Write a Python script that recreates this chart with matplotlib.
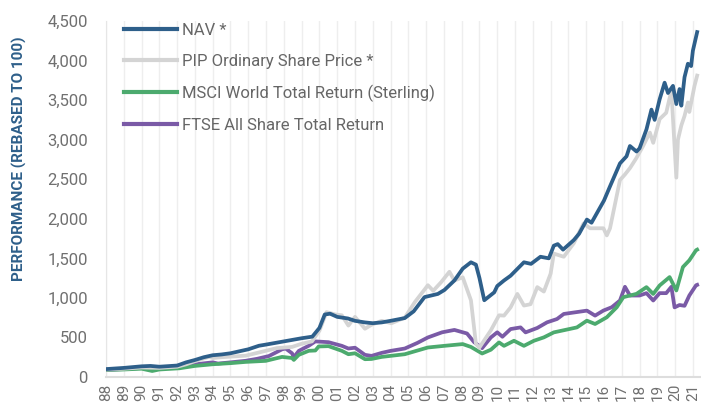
import matplotlib
matplotlib.use("Agg")
import matplotlib.pyplot as plt

plt.rcParams['font.family'] = ['Roboto', 'DejaVu Sans']

# ---- data ----
nav_x = [1988.0, 1989.0, 1990.0, 1990.5, 1991.0, 1992.0, 1992.5, 1993.0, 1993.5, 1994.0,
         1994.5, 1995.0, 1996.0, 1996.6, 1997.0, 1998.0, 1998.5, 1999.0, 1999.6, 2000.0,
         2000.3, 2000.6, 2001.0, 2001.6, 2002.0, 2002.56, 2003.0, 2003.5, 2004.0, 2004.8,
         2005.3, 2005.91, 2006.66, 2007.03, 2007.59, 2008.06, 2008.52, 2008.8, 2009.0, 2009.27,
         2009.83, 2010.0, 2010.38, 2010.75, 2011.5, 2011.9, 2012.43, 2012.9, 2013.18, 2013.4,
         2013.7, 2014.3, 2014.6, 2015.04, 2015.3, 2015.6, 2016.0, 2016.34, 2016.9, 2017.27,
         2017.46, 2017.83, 2018.0, 2018.39, 2018.67, 2018.85, 2019.13, 2019.41, 2019.6, 2019.88,
         2020.07, 2020.25, 2020.35, 2020.53, 2020.72, 2020.9, 2021.0, 2021.24]
nav_y = [100, 115, 135, 140, 130, 145, 185, 215, 250, 275,
         285, 300, 350, 395, 410, 450, 470, 490, 510, 620,
         790, 800, 760, 740, 710, 690, 680, 690, 710, 745,
         830, 1010, 1050, 1100, 1220, 1370, 1450, 1420, 1250, 970,
         1070, 1150, 1220, 1280, 1450, 1430, 1520, 1500, 1660, 1680,
         1610, 1730, 1810, 1990, 1950, 2070, 2230, 2410, 2700, 2790,
         2920, 2850, 2890, 3130, 3380, 3250, 3510, 3720, 3590, 3680,
         3450, 3640, 3430, 3790, 3960, 3930, 4125, 4360]

pip_x = [1988.0, 1989.0, 1990.0, 1991.0, 1992.0, 1992.5, 1993.0, 1993.8, 1994.0, 1994.5,
         1995.86, 1996.6, 1997.6, 1998.46, 1999.0, 1999.58, 2000.0, 2000.4, 2000.9, 2001.26,
         2001.63, 2002.0, 2002.56, 2002.93, 2003.5, 2004.05, 2004.8, 2005.36, 2006.1, 2006.4,
         2006.85, 2007.31, 2007.59, 2008.06, 2008.52, 2008.8, 2008.99, 2009.64, 2010.1, 2010.38,
         2010.75, 2011.13, 2011.5, 2011.87, 2012.25, 2012.62, 2013.0, 2013.18, 2013.74, 2014.3,
         2014.85, 2015.22, 2015.97, 2016.16, 2016.34, 2016.9, 2017.18, 2017.46, 2017.83, 2018.2,
         2018.58, 2018.77, 2019.13, 2019.5, 2019.79, 2020.07, 2020.16, 2020.35, 2020.53, 2020.72,
         2020.8, 2021.09, 2021.24]
pip_y = [95, 105, 120, 115, 130, 160, 200, 255, 240, 250,
         270, 310, 365, 380, 420, 450, 585, 820, 790, 780,
         650, 760, 610, 660, 710, 680, 750, 945, 1160, 1090,
         1200, 1330, 1220, 1260, 970, 420, 370, 590, 780, 776,
         880, 1050, 903, 920, 1136, 1080, 1306, 1560, 1520, 1690,
         1940, 1880, 1880, 1790, 1880, 2490, 2560, 2640, 2770, 2920,
         3090, 2960, 3260, 3340, 3620, 2520, 3000, 3180, 3300, 3470,
         3350, 3680, 3810]

msci_x = [1988.0, 1989.0, 1990.0, 1990.6, 1991.0, 1992.13, 1993.0, 1994.0, 1995.0, 1995.86,
          1996.98, 1997.9, 1998.46, 1998.56, 1998.84, 1999.4, 1999.77, 1999.96, 2000.51, 2001.26,
          2001.63, 2002.0, 2002.56, 2002.93, 2003.5, 2004.8, 2006.1, 2007.03, 2008.06, 2008.52,
          2009.15, 2009.64, 2010.1, 2010.38, 2010.94, 2011.5, 2012.06, 2012.62, 2013.18, 2014.48,
          2015.04, 2015.5, 2016.16, 2016.72, 2017.09, 2017.83, 2018.39, 2018.77, 2019.13, 2019.69,
          2020.07, 2020.44, 2020.8, 2021.18, 2021.24]
msci_y = [90, 95, 105, 76, 95, 110, 140, 161, 175, 191,
          204, 254, 240, 216, 280, 331, 335, 386, 390, 331,
          288, 300, 225, 228, 254, 288, 373, 394, 416, 380,
          297, 345, 437, 394, 458, 394, 458, 501, 564, 627,
          712, 670, 755, 882, 1009, 1051, 1136, 1050, 1157, 1263,
          1094, 1390, 1475, 1603, 1610]

ftse_x = [1988.0, 1989.0, 1990.0, 1990.46, 1990.6, 1991.0, 1992.13, 1993.0, 1994.0, 1994.3,
          1995.0, 1995.86, 1996.5, 1997.16, 1997.9, 1998.1, 1998.46, 1998.56, 1998.84, 1999.4,
          1999.77, 2000.51, 2001.26, 2001.63, 2002.0, 2002.56, 2002.93, 2003.5, 2004.0, 2004.8,
          2005.5, 2006.1, 2006.9, 2007.59, 2008.3, 2008.7, 2009.15, 2009.64, 2010.0, 2010.29,
          2010.75, 2011.31, 2011.59, 2012.25, 2012.8, 2013.36, 2013.74, 2015.04, 2015.5, 2015.97,
          2016.44, 2016.9, 2017.18, 2017.46, 2018.0, 2018.39, 2018.77, 2019.13, 2019.5, 2019.79,
          2019.97, 2020.25, 2020.53, 2020.8, 2021.18, 2021.24]
ftse_y = [90, 100, 115, 110, 90, 105, 130, 160, 185, 170,
          185, 205, 230, 265, 350, 360, 300, 250, 330, 395,
          450, 440, 394, 360, 370, 280, 267, 305, 330, 360,
          430, 500, 565, 595, 550, 440, 365, 500, 565, 509,
          606, 627, 564, 620, 691, 733, 797, 839, 776, 840,
          882, 967, 1140, 1030, 1030, 1060, 967, 1060, 1060, 1140,
          880, 910, 900, 1030, 1160, 1165]

years = list(range(1988, 2022))
year_labels = [f"{y % 100:02d}" for y in years]
y_ticks = [0, 500, 1000, 1500, 2000, 2500, 3000, 3500, 4000, 4500]
y_tick_labels = [f"{v:,}" for v in y_ticks]

series_labels = ["NAV *", "PIP Ordinary Share Price *",
                 "MSCI World Total Return (Sterling)", "FTSE All Share Total Return"]
colors = ["#2e5f8a", "#d4d4d4", "#4caa6e", "#7a5aa6"]

# ---- figure ----
W, H = 701, 407
fig = plt.figure(figsize=(W / 100, H / 100), dpi=100)
ax = fig.add_axes([106 / W, 1 - 377 / H, (700 - 106) / W, (377 - 21) / H])

lw = 2.7
ax.plot(ftse_x, ftse_y, color=colors[3], lw=lw, zorder=3, solid_joinstyle='round')
ax.plot(msci_x, msci_y, color=colors[2], lw=lw, zorder=4, solid_joinstyle='round')
ax.plot(pip_x, pip_y, color=colors[1], lw=lw, zorder=5, solid_joinstyle='round')
ax.plot(nav_x, nav_y, color=colors[0], lw=lw, zorder=6, solid_joinstyle='round')

ax.set_xlim(1988.0, 2021.4)
ax.set_ylim(0, 4500)
ax.set_yticks(y_ticks)
ax.set_yticklabels(y_tick_labels)
ax.set_xticks(years)
ax.set_xticklabels(year_labels, rotation=90, va='top')

ax.tick_params(axis='y', length=0, pad=13, labelsize=12, labelcolor='#707070')
ax.tick_params(axis='x', length=0, pad=5, labelsize=11, labelcolor='#707070')
ax.grid(axis='x', color='#eeeeee', lw=1)
ax.set_axisbelow(True)
for s in ['top', 'right']:
    ax.spines[s].set_visible(False)
ax.spines['left'].set_color('#e6e6e6')
ax.spines['bottom'].set_color('#dddddd')
ax.spines['bottom'].set_linewidth(1.5)

handles = [plt.Line2D([], [], color=c, lw=3) for c in colors]
leg = ax.legend(handles, series_labels, loc='upper left',
                bbox_to_anchor=(124 / W, 1 - 23 / H), bbox_transform=fig.transFigure,
                frameon=False, fontsize=12, handlelength=3.2, handletextpad=0.3,
                labelspacing=0.95, borderaxespad=0, borderpad=0)
for t in leg.get_texts():
    t.set_color('#666666')

fig.text(19 / W, 1 - 159 / H, "PERFORMANCE (REBASED TO 100)", rotation=90,
         ha='center', va='center', fontsize=11, fontweight='bold', color='#2e5f8a')

fig.savefig("out.png", dpi=100)
